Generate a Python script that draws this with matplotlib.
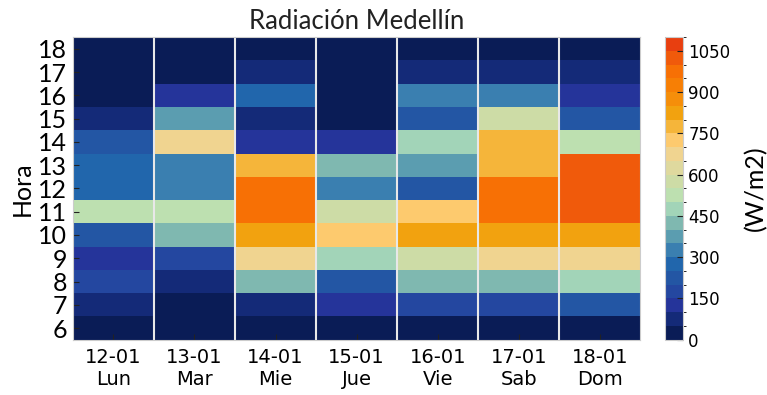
import numpy as np
import matplotlib
matplotlib.use("Agg")
import matplotlib.pyplot as plt
from matplotlib.colors import ListedColormap, BoundaryNorm

# ==============================================================================
fechas = ["12-01", "13-01", "14-01", "15-01", "16-01", "17-01", "18-01"]
dias = ["Lun", "Mar", "Mie", "Jue", "Vie", "Sab", "Dom"]
horas = [6, 7, 8, 9, 10, 11, 12, 13, 14, 15, 16, 17, 18]

# radiacion (W/m2) por dia, horas 6..18
lun = [25, 75, 175, 125, 225, 525, 275, 275, 225, 75, 25, 25, 25]
mar = [25, 25, 75, 175, 425, 525, 325, 325, 675, 375, 125, 25, 25]
mie = [25, 75, 425, 675, 825, 975, 975, 775, 125, 75, 275, 75, 25]
jue = [25, 125, 225, 475, 725, 575, 325, 425, 125, 25, 25, 25, 25]
vie = [25, 175, 425, 575, 825, 725, 225, 375, 475, 225, 325, 75, 25]
sab = [25, 175, 425, 675, 825, 975, 975, 775, 775, 575, 325, 75, 25]
dom = [25, 225, 475, 675, 825, 1025, 1025, 1025, 525, 225, 125, 75, 25]

niveles = np.arange(0, 1101, 50)
colores = ["#0a1c56", "#142a78", "#25349a", "#2447a0", "#2356a4", "#2166ac",
           "#3a7fb0", "#5b9db0", "#7fb8b0", "#a2d4b8", "#bde0b0", "#cddca6",
           "#dfd99e", "#f0d490", "#fdca6e", "#f5b53a", "#f2a20f", "#f58e0a",
           "#f77f05", "#f77005", "#f05a0b", "#e83f10"]

# ==============================================================================
fuente = ["Lato", "DejaVu Sans"]
datos = np.array([lun, mar, mie, jue, vie, sab, dom]).T

cmap = ListedColormap(colores)
norm = BoundaryNorm(niveles, cmap.N)

fig = plt.figure(figsize=(7.67, 3.95), dpi=100)
ax = fig.add_axes([0.095, 0.14, 0.74, 0.766])
cax = fig.add_axes([0.867, 0.14, 0.024, 0.766])

xe = np.arange(len(fechas) + 1) - 0.5
ye = np.arange(horas[0], horas[-1] + 2) - 0.5
mesh = ax.pcolormesh(xe, ye, datos, cmap=cmap, norm=norm)

for x in xe[1:-1]:
    ax.axvline(x, color="#e8e8e8", lw=1.5)

ax.set_xticks(range(len(fechas)))
ax.set_xticklabels(["%s\n%s" % (f, d) for f, d in zip(fechas, dias)],
                   fontsize=14, family="DejaVu Sans")
ax.set_yticks(horas)
ax.set_yticklabels([str(h) for h in horas], fontsize=18, family=fuente)
ax.tick_params(direction="in", length=4, color="#222222", pad=6)
ax.tick_params(axis="y", pad=4)
ax.set_ylabel("Hora", fontsize=18, family=fuente, labelpad=3)
ax.set_title("Radiación Medellín", fontsize=18.5, family=fuente, color="#222222", pad=6)
for s in ax.spines.values():
    s.set_color("#cccccc")

cb = fig.colorbar(mesh, cax=cax, ticks=np.arange(0, 1051, 150))
cb.ax.tick_params(direction="in", length=4, labelsize=12, color="#222222")
for t in cb.ax.get_yticklabels():
    t.set_family("DejaVu Sans")
cb.outline.set_edgecolor("#cccccc")
cb.set_label("(W/m2)", fontsize=18, family=fuente, labelpad=10)

plt.savefig("out.png")
